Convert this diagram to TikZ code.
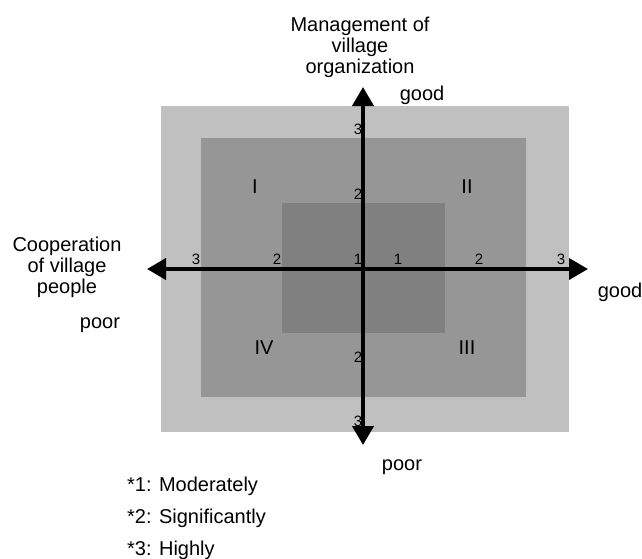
\documentclass[tikz,border=0pt]{standalone}
\usepackage{fontspec}
\setmainfont{Liberation Sans}
\usetikzlibrary{arrows.meta}
\tikzset{% change default arrow tips
    >={Triangle[length=19pt,width=21pt]}
}
\definecolor{ringthree}{HTML}{C0C0C0}
\definecolor{ringtwo}{HTML}{969696}
\definecolor{ringone}{HTML}{808080}
\tikzset{
    lbl/.style={font=\fontsize{20}{21}\selectfont, inner sep=0pt},
    tick/.style={font=\fontsize{15}{15}\selectfont, inner sep=0pt},
    axis/.style={<->, line width=4pt}
}

\begin{document}
\begin{tikzpicture}[x=1pt,y=-1pt]
    		\newcommand{\ox}{363}
    		\newcommand{\oy}{269}
    		\useasboundingbox (0,0) rectangle (642,558);
    	
    		% levels
    		\fill[ringthree] (161,106) rectangle (569,432);
    		\fill[ringtwo] (201,138) rectangle (526,397);
    		\fill[ringone] (282,203) rectangle (445,333);
    	
    		% axes
    		\coordinate (coopPoor) at (147,\oy);
    		\coordinate (coopGood) at (588,\oy);
    		\coordinate (mgmtGood) at (\ox,87);
    		\coordinate (mgmtPoor) at (\ox,445);
    		\draw[axis] (mgmtPoor) -- (mgmtGood);
    		\draw[axis] (coopPoor) -- (coopGood);
    	
    		% scale marks
    		\node[tick] (h3l) at (196,259) {3};
    		\node[tick] (h2l) at (277,259) {2};
    		\node[tick] (h1l) at (358,259) {1};
    		\node[tick] (h1r) at (398,259) {1};
    		\node[tick] (h2r) at (479,259) {2};
    		\node[tick] (h3r) at (561,259) {3};
    		\node[tick] (v3t) at (358,129) {3};
    		\node[tick] (v2t) at (358,194) {2};
    		\node[tick] (v2b) at (358,357) {2};
    		\node[tick] (v3b) at (358,421) {3};
    	
    		% quadrants
    		\node[lbl] (qI) at (255,187) {I};
    		\node[lbl] (qII) at (467,187) {II};
    		\node[lbl] (qIII) at (467,348) {III};
    		\node[lbl] (qIV) at (264,348) {IV};
    	
    		% axis titles
    		\node[lbl, align=center, anchor=north] (mgmt) at (360,17) {Management of\\village\\organization};
    		\node[lbl, anchor=base] (mgmtHi) at (422,100) {good};
    		\node[lbl, anchor=base] (mgmtLo) at (402,470) {poor};
    		\node[lbl, align=center, anchor=north] (coop) at (67,237) {Cooperation\\of village\\people};
    		\node[lbl, anchor=base] (coopLo) at (100,328) {poor};
    		\node[lbl, anchor=base] (coopHi) at (620,297) {good};
    	
    		% key
    		\node[lbl, anchor=base west] (key1) at (127,491) {*1: Moderately};
    		\node[lbl, anchor=base west] (key2) at (127,523) {*2: Significantly};
    		\node[lbl, anchor=base west] (key3) at (127,555) {*3: Highly};
\end{tikzpicture}
\end{document}
